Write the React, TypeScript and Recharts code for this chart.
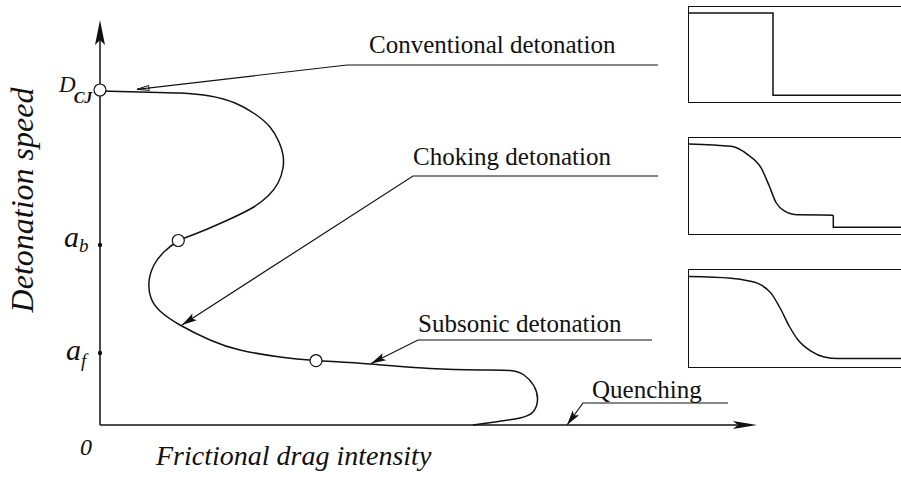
import { ComposedChart, LineChart, Line, XAxis, YAxis, ReferenceDot } from "recharts";

const FONT = "'Liberation Serif', 'Times New Roman', Times, serif";
const INK = "#111";

// S-shaped detonation speed vs frictional drag curve (schematic units)
const curveX = [0, 4.0, 8.0, 11.0, 13.5, 15.5, 17.0, 17.9, 18.3, 18.3, 17.8, 16.8, 15.2, 13.0, 10.5, 8.7, 7.8, 6.5, 5.4, 4.9, 5.1, 6.0, 8.0, 11.0, 14.0, 18.0, 21.6, 27.0, 33.0, 38.0, 41.0, 42.4, 43.4, 43.75, 43.3, 42.0, 39.5, 37.3];
const curveY = [33.4, 33.3, 33.2, 32.9, 32.2, 31.1, 29.8, 28.3, 27.0, 25.7, 24.2, 22.9, 21.7, 20.6, 19.5, 18.8, 18.4, 17.4, 16.0, 14.3, 12.7, 11.4, 10.0, 8.5, 7.5, 6.8, 6.45, 6.1, 5.65, 5.5, 5.45, 5.0, 3.9, 2.5, 1.3, 0.7, 0.3, 0];
const curve = curveX.map((x, i) => ({ x, y: curveY[i] }));

// marked states on the curve
const markX = [0, 7.83, 21.6];
const markY = [33.5, 18.45, 6.43];

// speed levels on the vertical axis
const D_CJ = 33.5;
const A_B = 18.0;
const A_F = 7.2;

// axes (origin, arrow tips)
const axisYTop = 40.5;
const axisXEnd = 65.7;

// callouts: label, leader polyline (underline end -> underline start -> arrow tip)
const calloutLabels = ["Conventional detonation", "Choking detonation", "Subsonic detonation", "Quenching"];
const calloutTextX = [26.9, 31.3, 31.8, 49.2];
const calloutTextY = [37.2, 26.0, 9.3, 2.7];
const leaderX = [
  [55.8, 24.7, 3.7],
  [55.8, 31.3, 8.2],
  [55.2, 31.8, 27.1],
  [62.8, 48.3, 46.7],
];
const leaderY = [
  [36.0, 36.0, 33.57],
  [24.9, 24.9, 10.0],
  [8.5, 8.5, 6.15],
  [2.2, 2.2, 0],
];

// inset profiles (position along tube vs normalised pressure)
const p1X = [0, 8.4, 8.4, 24];
const p1Y = [0.937, 0.937, 0.06, 0.06];
const p2X = [0, 4.2, 5.87, 7.2, 8.03, 8.7, 9.53, 10.87, 14.43];
const p2Y = [0.937, 0.912, 0.825, 0.687, 0.494, 0.321, 0.233, 0.191, 0.188];
const p2StepX = [14.43, 14.43, 24];
const p2StepY = [0.188, 0.06, 0.06];
const p3X = [0, 4.2, 5.87, 7.2, 8.2, 9.2, 10.03, 10.87, 12.2, 13.53, 14.87, 24];
const p3Y = [0.931, 0.914, 0.889, 0.845, 0.759, 0.586, 0.414, 0.276, 0.155, 0.093, 0.077, 0.077];

const zip = (xs: number[], ys: number[]) => xs.map((x, i) => ({ x, y: ys[i] }));

function arrowHead(angle: number, len: number, half: number, open = false) {
  return (p: any) => {
    const c = Math.cos(angle);
    const s = Math.sin(angle);
    const pt = (u: number, v: number) => `${p.cx + u * c - v * s},${p.cy + u * s + v * c}`;
    if (open) {
      return (
        <polygon
          points={`${pt(0, 0)} ${pt(-len, -half)} ${pt(-len, half)}`}
          fill="none"
          stroke={INK}
          strokeWidth={1}
        />
      );
    }
    return <polygon points={`${pt(0, 0)} ${pt(-len, -half)} ${pt(-len * 0.8, 0)} ${pt(-len, half)}`} fill={INK} />;
  };
}

// angle of the last segment in screen space (y flipped, same scale both axes)
const tipAngle = (xs: number[], ys: number[]) => {
  const n = xs.length;
  return Math.atan2(-(ys[n - 1] - ys[n - 2]), xs[n - 1] - xs[n - 2]);
};

const textShape = (content: any, size: number, italic = true, anchor = "start") => (p: any) => (
  <text
    x={p.cx}
    y={p.cy}
    style={{ fontFamily: FONT, fontSize: size, fontStyle: italic ? "italic" : "normal" }}
    textAnchor={anchor}
    fill={INK}
  >
    {content}
  </text>
);

function Inset({ top, height, lines }: { top: number; height: number; lines: { data: any[]; type: any }[] }) {
  return (
    <div
      style={{
        position: "absolute",
        left: 688,
        top,
        width: 240,
        height,
        border: `1.5px solid ${INK}`,
        boxSizing: "border-box",
      }}
    >
      <LineChart width={237} height={height - 3} margin={{ top: 0, right: 0, bottom: 0, left: 0 }}>
        <XAxis type="number" dataKey="x" domain={[0, 23.7]} hide allowDataOverflow />
        <YAxis type="number" domain={[0, 1]} hide allowDataOverflow />
        {lines.map((l, i) => (
          <Line
            key={i}
            data={l.data}
            dataKey="y"
            type={l.type}
            stroke={INK}
            strokeWidth={1.5}
            dot={false}
            activeDot={false}
            isAnimationActive={false}
          />
        ))}
      </LineChart>
    </div>
  );
}

export default function App() {
  return (
    <div
      style={{
        position: "absolute",
        left: 0,
        top: 0,
        width: 901,
        height: 483,
        overflow: "hidden",
        background: "#fff",
        fontFamily: FONT,
      }}
    >
      <ComposedChart width={901} height={483} margin={{ top: 0, right: 0, bottom: 0, left: 0 }}>
        <XAxis type="number" dataKey="x" domain={[-10, 80.1]} hide allowDataOverflow />
        <YAxis type="number" domain={[-5.8, 42.5]} hide allowDataOverflow />

        {/* axes */}
        <Line data={zip([0, 0], [0, axisYTop - 2])} dataKey="y" type="linear" stroke={INK} strokeWidth={1.5} dot={false} activeDot={false} isAnimationActive={false} />
        <Line data={zip([0, axisXEnd - 2], [0, 0])} dataKey="y" type="linear" stroke={INK} strokeWidth={1.5} dot={false} activeDot={false} isAnimationActive={false} />
        <ReferenceDot x={0} y={axisYTop} r={0} shape={arrowHead(-Math.PI / 2, 25, 5)} />
        <ReferenceDot x={axisXEnd} y={0} r={0} shape={arrowHead(0, 24, 4)} />

        {/* main curve */}
        <Line data={curve} dataKey="y" type="natural" stroke={INK} strokeWidth={1.5} dot={false} activeDot={false} isAnimationActive={false} />

        {/* callouts */}
        {leaderX.map((xs, i) => (
          <Line
            key={`leader-${i}`}
            data={zip(xs, leaderY[i])}
            dataKey="y"
            type="linear"
            stroke={INK}
            strokeWidth={1.2}
            dot={false}
            activeDot={false}
            isAnimationActive={false}
          />
        ))}
        {leaderX.map((xs, i) => (
          <ReferenceDot
            key={`tip-${i}`}
            x={xs[xs.length - 1]}
            y={leaderY[i][xs.length - 1]}
            r={0}
            shape={arrowHead(tipAngle(xs, leaderY[i]), i === 0 ? 12 : 15, i === 0 ? 2.5 : 4, i === 0)}
          />
        ))}
        {calloutLabels.map((label, i) => (
          <ReferenceDot
            key={`lbl-${i}`}
            x={calloutTextX[i]}
            y={calloutTextY[i]}
            r={0}
            shape={textShape(label, 25, false)}
          />
        ))}

        {/* marked states */}
        {markX.map((x, i) => (
          <ReferenceDot key={`m-${i}`} x={x} y={markY[i]} r={6} fill="#fff" stroke={INK} strokeWidth={1.2} />
        ))}
        <ReferenceDot x={0} y={A_B} r={2.2} fill={INK} stroke="none" />
        <ReferenceDot x={0} y={A_F} r={2.2} fill={INK} stroke="none" />

        {/* vertical axis labels */}
        <ReferenceDot
          x={-4.1}
          y={D_CJ - 0.2}
          r={0}
          shape={textShape(
            <>
              <tspan style={{ fontSize: 23 }}>D</tspan>
              <tspan style={{ fontSize: 16, fontWeight: "bold" }} dx={-2} dy={11}>CJ</tspan>
            </>,
            23
          )}
        />
        <ReferenceDot
          x={-3.6}
          y={A_B - 0.2}
          r={0}
          shape={textShape(
            <>
              <tspan style={{ fontSize: 30 }}>a</tspan>
              <tspan style={{ fontSize: 19 }} dx={0} dy={5}>b</tspan>
            </>,
            30
          )}
        />
        <ReferenceDot
          x={-3.4}
          y={A_F - 0.7}
          r={0}
          shape={textShape(
            <>
              <tspan style={{ fontSize: 30 }}>a</tspan>
              <tspan style={{ fontSize: 19 }} dx={0} dy={7}>f</tspan>
            </>,
            30
          )}
        />
        <ReferenceDot x={-2.0} y={-3.0} r={0} shape={textShape("0", 24)} />

        {/* axis titles */}
        <ReferenceDot x={5.6} y={-4.0} r={0} shape={textShape("Frictional drag intensity", 28)} />
        <ReferenceDot
          x={-6.7}
          y={22.5}
          r={0}
          shape={(p: any) => (
            <text
              x={p.cx}
              y={p.cy}
              transform={`rotate(-90, ${p.cx}, ${p.cy})`}
              style={{ fontFamily: FONT, fontSize: 32, fontStyle: "italic" }}
              textAnchor="middle"
              fill={INK}
            >
              Detonation speed
            </text>
          )}
        />
      </ComposedChart>

      <Inset top={6} height={97} lines={[{ data: zip(p1X, p1Y), type: "linear" }]} />
      <Inset
        top={137}
        height={98}
        lines={[
          { data: zip(p2X, p2Y), type: "monotone" },
          { data: zip(p2StepX, p2StepY), type: "linear" },
        ]}
      />
      <Inset top={269} height={99} lines={[{ data: zip(p3X, p3Y), type: "monotone" }]} />
    </div>
  );
}
